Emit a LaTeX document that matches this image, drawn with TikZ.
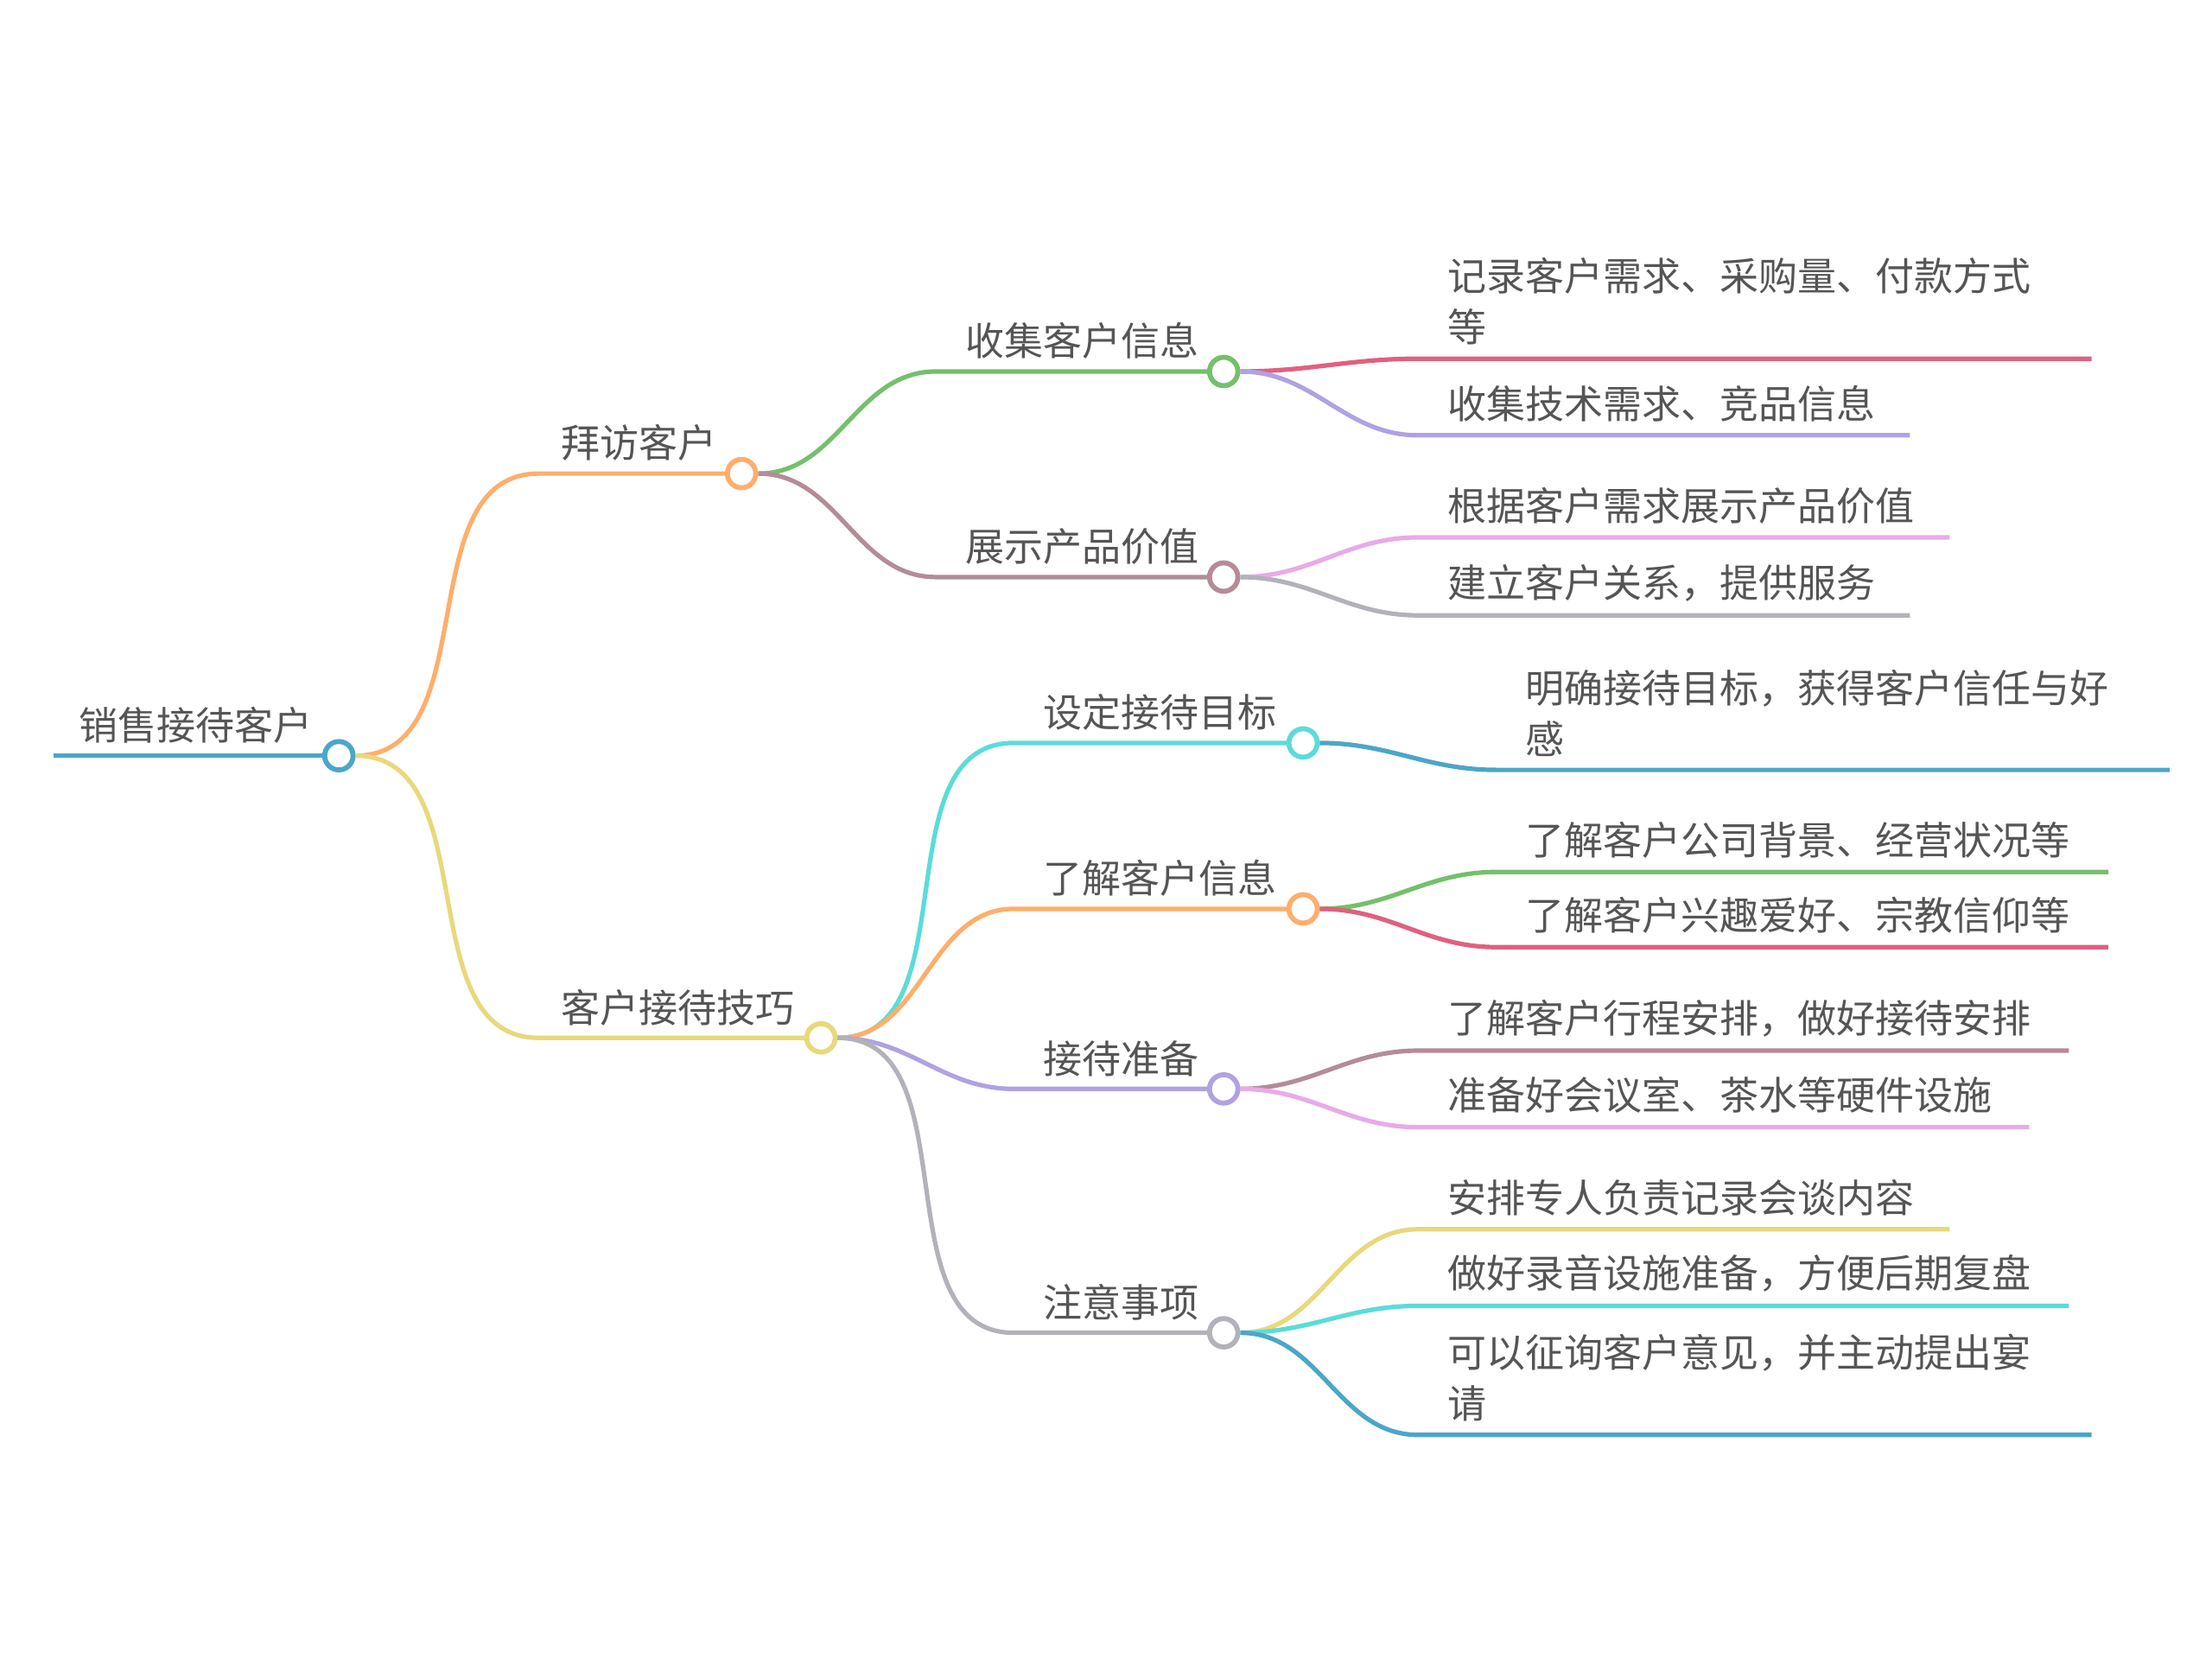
\documentclass[tikz,border=0pt]{standalone}
\usepackage{fontspec}
\newfontfamily\cjk{Noto Sans CJK SC}
\usetikzlibrary{positioning}
\definecolor{cblue}{HTML}{4BA6C8}
\definecolor{corange}{HTML}{FFAE6B}
\definecolor{cyellow}{HTML}{E9D87C}
\definecolor{cgreen}{HTML}{74C06C}
\definecolor{cmauve}{HTML}{B48C97}
\definecolor{cred}{HTML}{E1607F}
\definecolor{cpurple}{HTML}{B0A2E2}
\definecolor{cpink}{HTML}{E9AAE9}
\definecolor{cgray}{HTML}{B2B2BA}
\definecolor{ccyan}{HTML}{5BDCD8}
\definecolor{ctext}{HTML}{555555}
\tikzset{
    dot/.style={circle, draw=#1, fill=white, line width=1pt, minimum size=0.2cm, inner sep=0pt},
    edge/.style={line width=0.9pt, #1},
    lbl/.style={anchor=south west, inner sep=0pt, text=ctext, font=\cjk\fontsize{7.8pt}{10.2pt}\selectfont, align=left}
}
% \branch{parent}{start}{end}{colour}
\newcommand{\branch}[4]{\draw[edge=#4] (#1.east) to[out=0,in=180] (#2) -- (#3);}
\begin{document}
\begin{tikzpicture}[x=0.01cm, y=-0.01cm]
    \useasboundingbox (0,0) rectangle (1560,1169);

    %% root
    \coordinate (r0) at (38,533);
    \node[dot=cblue] (root) at (239,533) {};
    \draw[edge=cblue] (r0) -- (root);
    \node[lbl] at (55,525) {销售接待客户};

    %% level 1
    \node[dot=corange] (visit) at (523,334) {};
    \coordinate (s-visit) at (380,334);
    \branch{root}{s-visit}{visit.west}{corange}
    \node[lbl] at (395,326) {拜访客户};

    \node[dot=cyellow] (skill) at (579,732) {};
    \coordinate (s-skill) at (380,732);
    \branch{root}{s-skill}{skill.west}{cyellow}
    \node[lbl] at (395,724) {客户接待技巧};

    %% level 2
    \foreach \n/\p/\sx/\x/\y/\c/\t in {
        collect/visit/660/863/262/cgreen/收集客户信息,
        show/visit/660/863/407/cmauve/展示产品价值,
        goal/skill/715/919/524/ccyan/设定接待目标,
        know/skill/715/919/641/corange/了解客户信息,
        prep/skill/715/863/768/cpurple/接待准备,
        note/skill/715/863/940/cgray/注意事项}
    {
        \node[dot=\c] (\n) at (\x,\y) {};
        \coordinate (s-\n) at (\sx,\y);
        \branch{\p}{s-\n}{\n.west}{\c}
        \node[lbl] at (\sx+20,\y-8) {\t};
    }

    %% level 3
    \foreach \p/\sx/\y/\ex/\c/\t in {
        collect/1000/253/1475/cred/{记录客户需求、采购量、付款方式\\等},
        collect/1000/307/1347/cpurple/收集技术需求、竞品信息,
        show/1000/379/1375/cpink/根据客户需求展示产品价值,
        show/1000/434/1347/cgray/建立客户关系，提供服务,
        goal/1055/543/1530/cblue/{明确接待目标，获得客户信任与好\\感},
        know/1055/615/1487/cgreen/了解客户公司背景、经营状况等,
        know/1055/668/1487/cred/了解客户兴趣爱好、宗教信仰等,
        prep/1000/741/1459/cmauve/了解客户行程安排，做好接待安排,
        prep/1000/795/1431/cpink/准备好会议室、茶水等硬件设施,
        note/1000/867/1375/cyellow/安排专人负责记录会谈内容,
        note/1000/921/1459/ccyan/做好录音设施准备，方便后期复盘,
        note/1000/1012/1475/cblue/{可以征询客户意见，并主动提出宴\\请}}
    {
        \coordinate (a) at (\sx,\y);
        \coordinate (b) at (\ex,\y);
        \branch{\p}{a}{b}{\c}
        \node[lbl] at (\sx+20,\y-9) {\t};
    }
\end{tikzpicture}
\end{document}
